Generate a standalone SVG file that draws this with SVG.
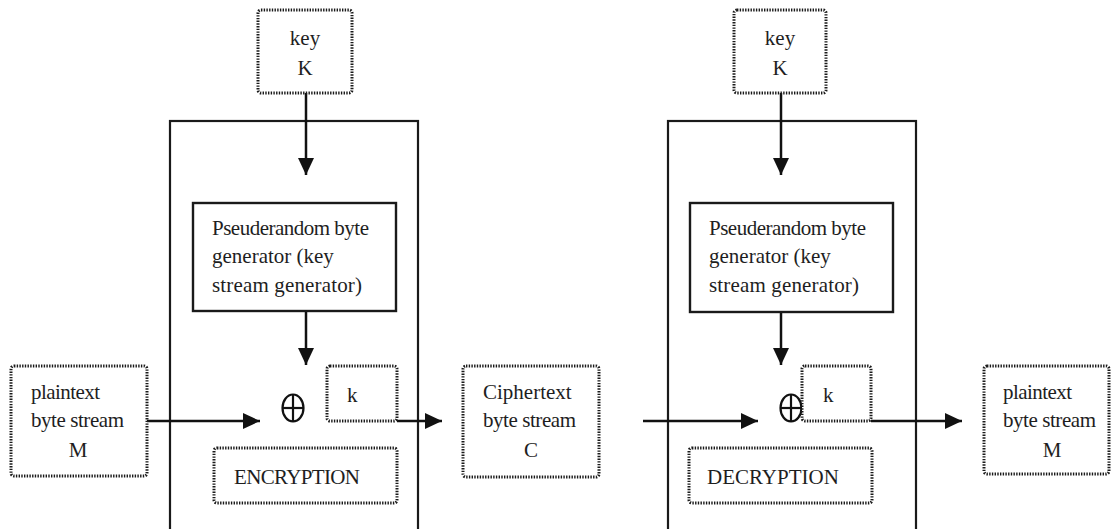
<svg xmlns="http://www.w3.org/2000/svg" width="1112" height="529" viewBox="0 0 1112 529">
<defs>
<style>
.frame{fill:none;stroke:#1a1a1a;stroke-width:2.2}
.solid{fill:#fff;stroke:#1a1a1a;stroke-width:2.4}
.dot{fill:#fff;stroke:#1a1a1a;stroke-width:3;stroke-dasharray:1.4 1.3}
.t{font-family:"Liberation Serif","Times New Roman",serif;font-size:21px;fill:#1e1e1e}
.c{text-anchor:middle}
.edge{fill:none;stroke:#111;stroke-width:2.5}
.xor{fill:none;stroke:#111;stroke-width:2.2}
</style>
<marker id="ah" markerUnits="userSpaceOnUse" markerWidth="18" markerHeight="18" refX="17" refY="9" orient="auto">
<path d="M0,1 L17,9 L0,17 z" fill="#111"/>
</marker>
</defs>
<rect width="1112" height="529" fill="#fff"/>

<g id="enc-frame"><rect class="frame" x="170" y="121" width="248" height="412"/></g>
<g id="dec-frame"><rect class="frame" x="668" y="121" width="248" height="412"/></g>

<g id="connectors">
<line class="edge" x1="306" y1="93" x2="306" y2="175" marker-end="url(#ah)"/>
<line class="edge" x1="306" y1="311" x2="306" y2="365" marker-end="url(#ah)"/>
<line class="edge" x1="147" y1="421" x2="260" y2="421" marker-end="url(#ah)"/>
<line class="edge" x1="397" y1="421" x2="442" y2="421" marker-end="url(#ah)"/>
<line class="edge" x1="643" y1="421" x2="758" y2="421" marker-end="url(#ah)"/>
<line class="edge" x1="781" y1="93" x2="781" y2="175" marker-end="url(#ah)"/>
<line class="edge" x1="781" y1="312" x2="781" y2="365" marker-end="url(#ah)"/>
<line class="edge" x1="871" y1="421" x2="962" y2="421" marker-end="url(#ah)"/>
</g>

<g id="key-enc">
<rect class="dot" x="258" y="10" width="94" height="83" rx="3"/>
<text class="t c" x="305" y="45">key</text>
<text class="t c" x="305" y="75">K</text>
</g>

<g id="prg-enc">
<rect class="solid" x="193" y="203" width="203" height="108"/>
<text class="t" x="212" y="235" textLength="157">Pseuderandom byte</text>
<text class="t" x="212" y="263">generator (key</text>
<text class="t" x="212" y="292" textLength="150">stream generator)</text>
</g>

<g id="xor-enc">
<ellipse class="xor" cx="293" cy="408" rx="10.5" ry="13.5"/>
<line class="xor" x1="282.5" y1="408" x2="303.5" y2="408"/>
<line class="xor" x1="293" y1="394.5" x2="293" y2="421.5"/>
</g>

<g id="k-enc">
<rect class="dot" x="327" y="366" width="70" height="55" rx="3"/>
<text class="t" x="347" y="402">k</text>
</g>

<g id="plain-in">
<rect class="dot" x="11" y="366" width="136" height="110" rx="3"/>
<text class="t" x="31" y="399" textLength="69">plaintext</text>
<text class="t" x="31" y="427" textLength="93">byte stream</text>
<text class="t c" x="78" y="457">M</text>
</g>

<g id="encryption-label">
<rect class="dot" x="214" y="448" width="183" height="55" rx="3"/>
<text class="t" x="234" y="484" textLength="126">ENCRYPTION</text>
</g>

<g id="cipher">
<rect class="dot" x="463" y="366" width="136" height="111" rx="3"/>
<text class="t" x="483" y="399">Ciphertext</text>
<text class="t" x="483" y="427" textLength="93">byte stream</text>
<text class="t c" x="531" y="457">C</text>
</g>

<g id="key-dec">
<rect class="dot" x="734" y="10" width="92" height="83" rx="3"/>
<text class="t c" x="780" y="45">key</text>
<text class="t c" x="780" y="75">K</text>
</g>

<g id="prg-dec">
<rect class="solid" x="690" y="203" width="203" height="109"/>
<text class="t" x="709" y="235" textLength="157">Pseuderandom byte</text>
<text class="t" x="709" y="263">generator (key</text>
<text class="t" x="709" y="292" textLength="150">stream generator)</text>
</g>

<g id="xor-dec">
<ellipse class="xor" cx="791" cy="408" rx="10.5" ry="13.5"/>
<line class="xor" x1="780.5" y1="408" x2="801.5" y2="408"/>
<line class="xor" x1="791" y1="394.5" x2="791" y2="421.5"/>
</g>

<g id="k-dec">
<rect class="dot" x="802" y="366" width="69" height="55" rx="3"/>
<text class="t" x="823" y="402">k</text>
</g>

<g id="decryption-label">
<rect class="dot" x="689" y="448" width="183" height="55" rx="3"/>
<text class="t" x="707" y="484">DECRYPTION</text>
</g>

<g id="plain-out">
<rect class="dot" x="984" y="366" width="125" height="108" rx="3"/>
<text class="t" x="1003" y="399" textLength="69">plaintext</text>
<text class="t" x="1003" y="427" textLength="93">byte stream</text>
<text class="t c" x="1052" y="457">M</text>
</g>
</svg>
